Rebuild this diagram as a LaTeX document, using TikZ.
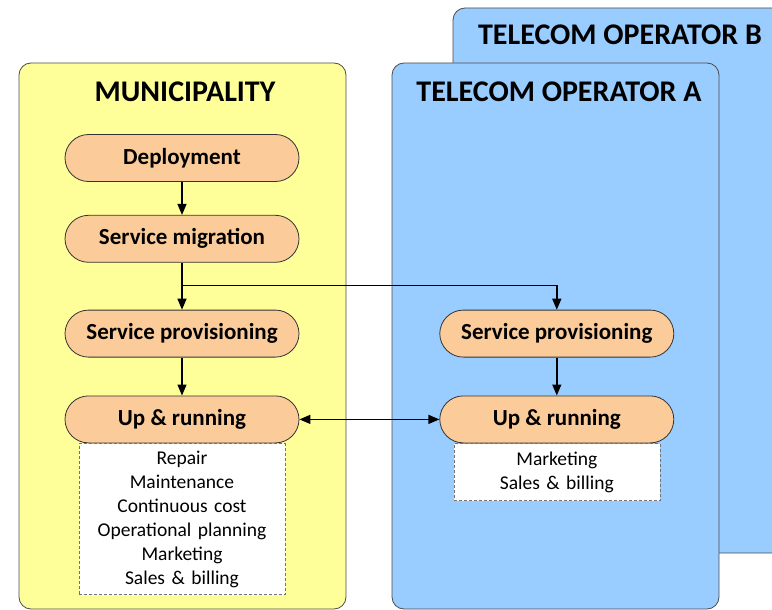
\documentclass[tikz,border=0pt]{standalone}
\usepackage{fontspec}
\setmainfont{Carlito}
\usetikzlibrary{positioning,arrows.meta}
\definecolor{muniyellow}{HTML}{FFFF99}
\definecolor{opblue}{HTML}{99CCFF}
\definecolor{phasefill}{HTML}{FBCB9A}

\begin{document}
\begin{tikzpicture}[x=1pt,y=-1pt,node distance=33pt,
    panel/.style={draw=black!70,line width=0.8pt,rounded corners=12pt},
    title/.style={font=\fontsize{30}{33}\selectfont\bfseries},
    phase/.style={draw=black!80,fill=phasefill,line width=0.8pt,rounded corners=23.5pt,
      minimum width=234pt,minimum height=47pt,inner sep=0pt,
      font=\fontsize{23}{26}\selectfont\bfseries},
    tasks/.style={draw=black!55,densely dashed,fill=white,text width=206pt,inner sep=0pt,
      align=center,font=\fontsize{19.5}{24}\selectfont},
    flow/.style={-{Triangle[length=11pt,width=9pt]},line width=1.4pt}]
  \clip (0,0) rectangle (772,610);
  % the three organisations
  \draw[panel,fill=opblue] (453,8) rectangle (800,553);
  \draw[panel,fill=opblue] (392,63) rectangle (719,609);
  \draw[panel,fill=muniyellow] (19,63) rectangle (346,609);
  \node[title] (titleB) at (620,35) {TELECOM OPERATOR B};
  \node[title] (titleA) at (559,92) {TELECOM OPERATOR A};
  \node[title] (titleM) at (185,92) {MUNICIPALITY};
  % municipality phases
  \node[phase] (deploy) at (182,158) {Deployment};
  \node[phase,below=33pt of deploy] (migrM) {Service migration};
  \node[phase,below=47pt of migrM] (provM) {Service provisioning};
  \node[phase,below=38pt of provM] (upM) {Up \& running};
  % operator phases
  \node[phase,right=140pt of provM] (provA) {Service provisioning};
  \node[phase,below=38pt of provA] (upA) {Up \& running};
  % tasks while running
  \node[tasks,below=0pt of upM,minimum height=151pt] (tasksM)
    {Repair\\Maintenance\\Continuous cost\\Operational planning\\Marketing\\Sales \& billing};
  \node[tasks,below=0pt of upA,minimum height=57pt] (tasksA)
    {Marketing\\Sales \& billing};
  \coordinate[below=23pt of migrM.south] (split);
  \draw[flow] (deploy) -- (migrM);
  \draw[flow] (migrM) -- (provM);
  \draw[flow] (split) -| (provA);
  \draw[flow,{Triangle[length=11pt,width=9pt]}-{Triangle[length=11pt,width=9pt]}] (upM) -- (upA);
  \draw[flow] (provA) -- (upA);
  \draw[flow] (provM) -- (upM);
\end{tikzpicture}
\end{document}
